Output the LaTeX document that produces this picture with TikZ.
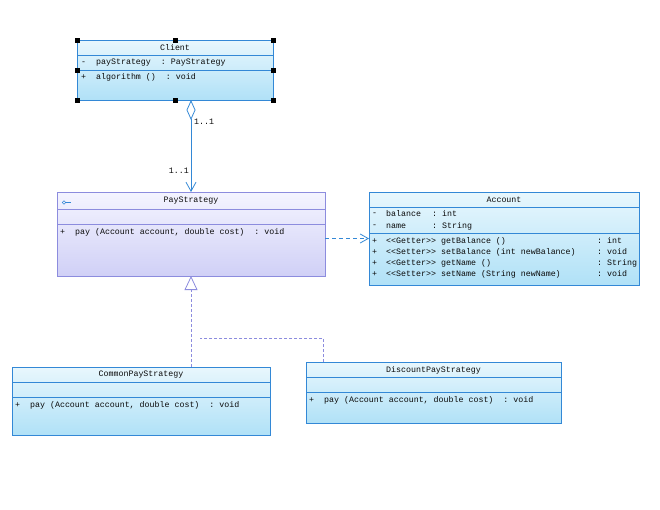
\documentclass[tikz,border=0pt]{standalone}
\usepackage{fontspec}
\setmonofont{Liberation Mono}
\usetikzlibrary{arrows.meta,calc}
\definecolor{bblue}{RGB}{51,136,214}
\definecolor{bfillt}{RGB}{232,247,253}
\definecolor{bfillb}{RGB}{176,225,247}
\definecolor{pborder}{RGB}{140,140,222}
\definecolor{pfillt}{RGB}{244,244,255}
\definecolor{pfillb}{RGB}{208,208,246}
\definecolor{txtc}{RGB}{10,10,10}
\begin{document}
\begin{tikzpicture}[x=1pt,y=-1pt,
  font=\ttfamily\fontsize{8.3}{9}\selectfont,
  txt/.style={inner sep=0, anchor=west, text=txtc},
  ttl/.style={inner sep=0, text=txtc},
  bluebox/.style={draw=bblue, line width=0.8pt, top color=bfillt, bottom color=bfillb, inner sep=0, outer sep=0, anchor=north west},
  purplebox/.style={draw=pborder, line width=0.8pt, top color=pfillt, bottom color=pfillb, inner sep=0, outer sep=0, anchor=north west},
  bsep/.style={draw=bblue, line width=0.8pt},
  psep/.style={draw=pborder, line width=0.8pt},
  handle/.style={fill=black, minimum size=5pt, inner sep=0},
  bline/.style={draw=bblue, line width=0.8pt},
  pline/.style={draw=pborder, line width=0.8pt, dash pattern=on 3pt off 2pt}]
\useasboundingbox[fill=white] (0,0) rectangle (660,509);

% ---------- Client ----------
\node[bluebox, minimum width=196pt, minimum height=60pt] (client) at (77,40) {};
\draw[bsep] (77,55) -- (273,55);
\draw[bsep] (77,70) -- (273,70);
\node[ttl] (clientT) at (175,47.5) {Client};
\node[txt] (clientA) at (81,63) {-~~payStrategy~~:~PayStrategy};
\node[txt] (clientO) at (81,77) {+~~algorithm~()~~:~void};
\foreach \a [count=\i] in {north west,north,north east,west,east,south west,south,south east}
  \node[handle] (h\i) at (client.\a) {};

% ---------- PayStrategy ----------
\node[purplebox, minimum width=268pt, minimum height=84pt] (pay) at (57,192) {};
\draw[psep] (57,209) -- (325,209);
\draw[psep] (57,224) -- (325,224);
\node[ttl] (payT) at (191,201) {PayStrategy};
\draw[draw=bblue, line width=0.6pt] (64,202.5) circle (1.7pt);
\draw[draw=bblue, line width=0.6pt] (65.7,202.5) -- (71,202.5);
\node[txt] (payO) at (60,232) {+~~pay~(Account~account,~double~cost)~~:~void};

% ---------- Account ----------
\node[bluebox, minimum width=270pt, minimum height=93pt] (account) at (369,192) {};
\draw[bsep] (369,207) -- (639,207);
\draw[bsep] (369,233) -- (639,233);
\node[ttl] (accT) at (504,200) {Account};
\node[txt] (accA1s) at (372,214) {-};
\node[txt] (accA1n) at (386,214) {balance};
\node[txt] (accA1t) at (432,214) {:~int};
\node[txt] (accA2s) at (372,226) {-};
\node[txt] (accA2n) at (386,226) {name};
\node[txt] (accA2t) at (432,226) {:~String};
\foreach \y/\st/\nm/\rt [count=\i] in {241/Getter/getBalance~()/int, 252/Setter/setBalance~(int~newBalance)/void, 263/Getter/getName~()/String, 274/Setter/setName~(String~newName)/void}{
  \node[txt] (accOs\i) at (372,\y) {+};
  \node[txt] (accOst\i) at (386,\y) {<{}<\st>{}>};
  \node[txt] (accOn\i) at (441,\y) {\nm};
  \node[txt] (accOr\i) at (597,\y) {:~\rt};
}

% ---------- CommonPayStrategy ----------
\node[bluebox, minimum width=258pt, minimum height=68pt] (common) at (12,367) {};
\draw[bsep] (12,382) -- (270,382);
\draw[bsep] (12,397) -- (270,397);
\node[ttl] (comT) at (141,375) {CommonPayStrategy};
\node[txt] (comO) at (15,405) {+~~pay~(Account~account,~double~cost)~~:~void};

% ---------- DiscountPayStrategy ----------
\node[bluebox, minimum width=255pt, minimum height=61pt] (disc) at (306,362) {};
\draw[bsep] (306,377) -- (561,377);
\draw[bsep] (306,392) -- (561,392);
\node[ttl] (discT) at (433.5,370) {DiscountPayStrategy};
\node[txt] (discO) at (309,400) {+~~pay~(Account~account,~double~cost)~~:~void};

% ---------- Connectors ----------
\draw[bline, {Diamond[open, fill=white, length=20pt, width=9pt]}-{Straight Barb[length=9pt, width=10pt]}]
  (client.south -| pay.north) -- (pay.north);
\node[txt] (m1) at (194,122) {1..1};
\node[txt, anchor=east] (m2) at (189,170.5) {1..1};

\draw[bline, dash pattern=on 4pt off 3pt, -{Straight Barb[length=8pt, width=9pt]}]
  (pay.east |- account.west) -- (account.west);

\draw[pline, -{Triangle[open, fill=white, length=14pt, width=13pt, line width=0.8pt]}]
  (common.north -| pay.south) -- (pay.south);
\coordinate (jn) at (200,338);
\draw[pline] ([xshift=17pt]disc.north west) |- (jn);
\end{tikzpicture}
\end{document}
